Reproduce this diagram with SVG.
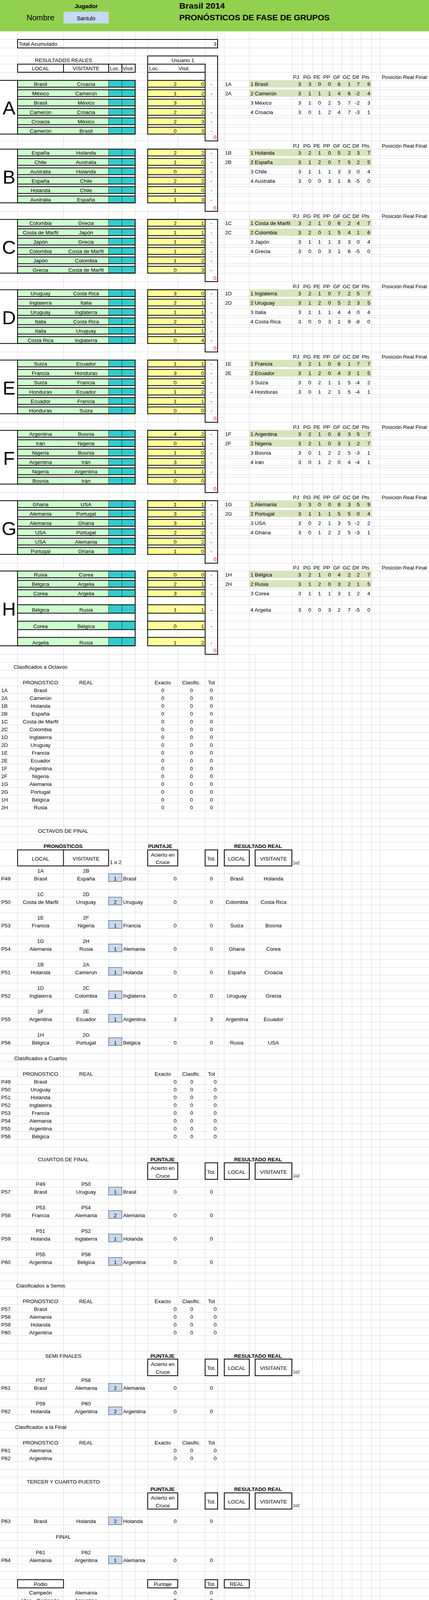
<svg xmlns="http://www.w3.org/2000/svg" width="1098" height="4208" viewBox="0 0 1098 4208">
<style>
text{font-family:"Liberation Sans",Arial,Helvetica,sans-serif;font-size:13.5px;fill:#000}
.m{text-anchor:middle}
.e{text-anchor:end}
.b{font-weight:bold}
.big{font-size:49px}
.sm{font-size:10px}
.red{fill:#f00}
.gl{stroke:#d9d9d9;stroke-width:1;fill:none}
.k{stroke:#000;stroke-width:2;fill:none;stroke-linecap:square}
.bx{fill:#c5d9f1;stroke:#3a3a3a;stroke-width:1}
.hl{fill:#d8e4bc}
.wh{fill:#fff}
</style>
<defs>
<g id="mr">
<rect x="45" y="0" width="233" height="17.6" fill="#ccffcc"/>
<rect x="278" y="0" width="68" height="17.6" fill="#33cccc"/>
<rect x="378" y="0" width="147" height="17.6" fill="#ffff99"/>
<path d="M278 0V17.6M312 0V17.6" stroke="#2a2a2a" stroke-width="1"/>
<path d="M45 0H346M45 17.6H346M378 0H525M378 17.6H525" stroke="#000" stroke-width="2" fill="none" stroke-linecap="square"/>
</g>
<g id="mr2">
<rect x="45" y="0" width="233" height="21.5" fill="#ccffcc"/>
<rect x="278" y="0" width="68" height="21.5" fill="#33cccc"/>
<rect x="378" y="0" width="147" height="21.5" fill="#ffff99"/>
<path d="M278 0V21.5M312 0V21.5" stroke="#2a2a2a" stroke-width="1"/>
<path d="M45 0H346M45 21.5H346M378 0H525M378 21.5H525" stroke="#000" stroke-width="2" fill="none" stroke-linecap="square"/>
</g>
</defs>
<rect width="1098" height="4208" fill="#fff"/>
<g id="grid">
<path class="gl" d="M45 80V4208M162.5 80V4208M278 80V4208M312 80V4208M346 80V4208M378 80V4208M455 80V4208M525 80V4208M557 80V4208M574 80V4208M638 80V4208M748 80V4208M774 80V4208M800 80V4208M825 80V4208M851 80V4208M875 80V4208M901 80V4208M924 80V4208M951 80V4208M973 80V4208M653 1675V4208"/>
<path class="gl" d="M0 80h1098M0 101h1098M0 122.7h1098M0 143.3h1098M0 164.3h1098M0 185h1098M0 205.7h1098M0 223.3h1098M0 229.7h1098M0 247.3h1098M0 253.7h1098M0 271.3h1098M0 277.7h1098M0 295.3h1098M0 301.7h1098M0 319.3h1098M0 325.7h1098M0 343.3h1098M0 360.7h1098M0 381.7h1098M0 399.3h1098M0 405.7h1098M0 423.3h1098M0 429.7h1098M0 447.3h1098M0 453.7h1098M0 471.3h1098M0 477.7h1098M0 495.3h1098M0 501.7h1098M0 519.3h1098M0 541h1098M0 561.7h1098M0 579.3h1098M0 585.7h1098M0 603.3h1098M0 609.7h1098M0 627.3h1098M0 633.7h1098M0 651.3h1098M0 657.7h1098M0 675.3h1098M0 681.7h1098M0 699.3h1098M0 721h1098M0 741.7h1098M0 759.3h1098M0 765.7h1098M0 783.3h1098M0 789.7h1098M0 807.3h1098M0 813.7h1098M0 831.3h1098M0 837.7h1098M0 855.3h1098M0 861.7h1098M0 879.3h1098M0 901h1098M0 921.7h1098M0 939.3h1098M0 945.7h1098M0 963.3h1098M0 969.7h1098M0 987.3h1098M0 993.7h1098M0 1011.3h1098M0 1017.7h1098M0 1035.3h1098M0 1041.7h1098M0 1059.3h1098M0 1081h1098M0 1101.7h1098M0 1119.3h1098M0 1125.7h1098M0 1143.3h1098M0 1149.7h1098M0 1167.3h1098M0 1173.7h1098M0 1191.3h1098M0 1197.7h1098M0 1215.3h1098M0 1221.7h1098M0 1239.3h1098M0 1261h1098M0 1281.7h1098M0 1299.3h1098M0 1305.7h1098M0 1323.3h1098M0 1329.7h1098M0 1347.3h1098M0 1353.7h1098M0 1371.3h1098M0 1377.7h1098M0 1395.3h1098M0 1401.7h1098M0 1419.3h1098M0 1441.7h1098M0 1461.7h1098M0 1479.3h1098M0 1485.7h1098M0 1503.3h1098M0 1509.7h1098M0 1527.3h1098M0 1548.3h1098M0 1570h1098M0 1590.3h1098M0 1611.7h1098M0 1632h1098M0 1653.3h1098M0 1675h1098M0 1695.7h1098M0 1715.7h1098M0 1735.7h1098M0 1755.7h1098M0 1775.7h1098M0 1795.7h1098M0 1815.7h1098M0 1835.7h1098M0 1855.7h1098M0 1875.7h1098M0 1895.7h1098M0 1915.7h1098M0 1935.7h1098M0 1955.7h1098M0 1975.7h1098M0 1995.7h1098M0 2015.7h1098M0 2035.7h1098M0 2055.7h1098M0 2075.7h1098M0 2095.7h1098M0 2115.7h1098M0 2135.7h1098M0 2155.7h1098M0 2175.7h1098M0 2216.7h1098M0 2236.7h1098M0 2256.7h1098M0 2276.7h1098M0 2296.7h1098M0 2316.7h1098M0 2336.7h1098M0 2356.7h1098M0 2376.7h1098M0 2396.7h1098M0 2416.7h1098M0 2436.7h1098M0 2456.7h1098M0 2476.7h1098M0 2496.7h1098M0 2516.7h1098M0 2536.7h1098M0 2556.7h1098M0 2576.7h1098M0 2596.7h1098M0 2616.7h1098M0 2636.7h1098M0 2656.7h1098M0 2676.7h1098M0 2696.7h1098M0 2716.7h1098M0 2736.7h1098M0 2756.7h1098M0 2776.7h1098M0 2796.7h1098M0 2816.7h1098M0 2836.7h1098M0 2856.7h1098M0 2876.7h1098M0 2896.7h1098M0 2916.7h1098M0 2936.7h1098M0 2956.7h1098M0 2976.7h1098M0 3019.2h1098M0 3039.2h1098M0 3059.2h1098M0 3079.2h1098M0 3099.2h1098M0 3119.2h1098M0 3139.2h1098M0 3159.2h1098M0 3179.2h1098M0 3199.2h1098M0 3219.2h1098M0 3239.2h1098M0 3259.2h1098M0 3279.2h1098M0 3299.2h1098M0 3319.2h1098M0 3339.2h1098M0 3359.2h1098M0 3379.2h1098M0 3399.2h1098M0 3419.2h1098M0 3439.2h1098M0 3459.2h1098M0 3479.2h1098M0 3521.7h1098M0 3541.7h1098M0 3561.7h1098M0 3581.7h1098M0 3601.7h1098M0 3621.7h1098M0 3641.7h1098M0 3661.7h1098M0 3681.7h1098M0 3701.7h1098M0 3721.7h1098M0 3741.7h1098M0 3761.7h1098M0 3781.7h1098M0 3801.7h1098M0 3821.7h1098M0 3863.3h1098M0 3883.3h1098M0 3903.3h1098M0 3923.3h1098M0 3943.3h1098M0 3963.3h1098M0 3983.3h1098M0 4003.3h1098M0 4023.3h1098M0 4044h1098M0 4065h1098M0 4086h1098M0 4106h1098M0 4126h1098M0 4146h1098M0 4167.3h1098M0 4187.7h1098"/>
</g>
<g id="header">
<rect x="0" y="0" width="1098" height="80" fill="#92d050"/>
<rect x="162.5" y="30" width="115.5" height="30" fill="#c5d9f1"/>
<text class="m b" x="220.5" y="21" style="font-size:15px">Jugador</text>
<text class="m" x="103.6" y="52.3" style="font-size:20px">Nombre</text>
<text class="m" x="220.25" y="52" style="font-size:14px">Santulo</text>
<text class="b" x="458.7" y="21.7" style="font-size:20px" textLength="117" lengthAdjust="spacingAndGlyphs">Brasil 2014</text>
<text class="b" x="458.7" y="52.3" style="font-size:20px" textLength="385" lengthAdjust="spacingAndGlyphs">PRONÓSTICOS DE FASE DE GRUPOS</text>
</g>
<g id="total">
<rect class="k" x="45" y="101" width="512" height="21.7"/>
<text x="47.5" y="117">Total Acumulado</text>
<text class="e" x="554" y="117">3</text>
</g>
<g id="column-headers">
<text class="m" x="162.5" y="159">RESULTADOS REALES</text>
<text class="m" x="468" y="159">Usuario 1</text>
<path class="k" d="M45 164.3H346V185H45ZM162.5 164.3V185M278 164.3V185M312 164.3V185M378 164.3H525V185H378Z"/>
<text class="m" y="180"><tspan x="103.75">LOCAL</tspan><tspan x="220.25">VISITANTE</tspan></text>
<text y="180"><tspan x="281">Loc.</tspan><tspan x="314">Visit.</tspan><tspan x="381.5">Loc.</tspan><tspan x="457">Visit.</tspan></text>
</g>

<g id="group-A">
<rect class="wh" x="0" y="206.7" width="44" height="135.6"/>
<use href="#mr" y="205.7"/><use href="#mr" y="229.7"/><use href="#mr" y="253.7"/><use href="#mr" y="277.7"/><use href="#mr" y="301.7"/><use href="#mr" y="325.7"/>
<path class="k" d="M0 205.7H45M0 343.3H346M45 205.7V343.3M346 205.7V343.3M378 143.3V343.3M525 164.3V360.7M557 143.3V360.7M378 143.3H557M525 360.7H557"/>
<rect class="hl" x="638" y="205.7" width="313" height="17.6"/><rect class="hl" x="638" y="229.7" width="313" height="17.6"/>
<text class="big m" x="23" y="293">A</text>
<text class="m" y="219.5"><tspan x="103.75">Brasil</tspan><tspan x="220.25">Croacia</tspan><tspan x="541">-</tspan></text><text class="e" y="219.5"><tspan x="452">2</tspan><tspan x="522.5">0</tspan></text>
<text class="m" y="243.5"><tspan x="103.75">México</tspan><tspan x="220.25">Camerún</tspan><tspan x="541">-</tspan></text><text class="e" y="243.5"><tspan x="452">1</tspan><tspan x="522.5">2</tspan></text>
<text class="m" y="267.5"><tspan x="103.75">Brasil</tspan><tspan x="220.25">México</tspan></text><text class="e" y="267.5"><tspan x="452">3</tspan><tspan x="522.5">1</tspan></text>
<text class="m" y="291.5"><tspan x="103.75">Camerún</tspan><tspan x="220.25">Croacia</tspan><tspan x="541">-</tspan></text><text class="e" y="291.5"><tspan x="452">2</tspan><tspan x="522.5">2</tspan></text>
<text class="m" y="315.5"><tspan x="103.75">Croacia</tspan><tspan x="220.25">México</tspan><tspan x="541">-</tspan></text><text class="e" y="315.5"><tspan x="452">2</tspan><tspan x="522.5">3</tspan></text>
<text class="m" y="339.5"><tspan x="103.75">Camerún</tspan><tspan x="220.25">Brasil</tspan><tspan x="541">-</tspan></text><text class="e" y="339.5"><tspan x="452">0</tspan><tspan x="522.5">3</tspan></text>
<text class="e red" x="554" y="355.7">0</text>
<text y="201.7"><tspan x="750">PJ</tspan><tspan x="776">PG</tspan><tspan x="802">PE</tspan><tspan x="827">PP</tspan><tspan x="852.5">GF</tspan><tspan x="877">GC</tspan><tspan x="902">Dif</tspan><tspan x="926">Pts</tspan><tspan x="977">Posición Real Final</tspan></text>
<text y="219.5"><tspan x="576">1A</tspan><tspan x="641">1 Brasil</tspan></text><text class="e" y="219.5"><tspan x="770.5">3</tspan><tspan x="796.5">3</tspan><tspan x="821.5">0</tspan><tspan x="847">0</tspan><tspan x="871.5">8</tspan><tspan x="897.5">1</tspan><tspan x="920.5">7</tspan><tspan x="947.5">9</tspan></text>
<text y="243.5"><tspan x="576">2A</tspan><tspan x="641">2 Camerún</tspan></text><text class="e" y="243.5"><tspan x="770.5">3</tspan><tspan x="796.5">1</tspan><tspan x="821.5">1</tspan><tspan x="847">1</tspan><tspan x="871.5">4</tspan><tspan x="897.5">6</tspan><tspan x="920.5">-2</tspan><tspan x="947.5">4</tspan></text>
<text x="641" y="267.5">3 México</text><text class="e" y="267.5"><tspan x="770.5">3</tspan><tspan x="796.5">1</tspan><tspan x="821.5">0</tspan><tspan x="847">2</tspan><tspan x="871.5">5</tspan><tspan x="897.5">7</tspan><tspan x="920.5">-2</tspan><tspan x="947.5">3</tspan></text>
<text x="641" y="291.5">4 Croacia</text><text class="e" y="291.5"><tspan x="770.5">3</tspan><tspan x="796.5">0</tspan><tspan x="821.5">1</tspan><tspan x="847">2</tspan><tspan x="871.5">4</tspan><tspan x="897.5">7</tspan><tspan x="920.5">-3</tspan><tspan x="947.5">1</tspan></text>
</g>

<g id="group-B">
<rect class="wh" x="0" y="382.7" width="44" height="135.6"/>
<use href="#mr" y="381.7"/><use href="#mr" y="405.7"/><use href="#mr" y="429.7"/><use href="#mr" y="453.7"/><use href="#mr" y="477.7"/><use href="#mr" y="501.7"/>
<path class="k" d="M0 381.7H45M0 519.3H346M45 381.7V519.3M346 381.7V519.3M378 381.7V519.3M525 381.7V541M557 381.7V541M378 381.7H557M525 541H557"/>
<rect class="hl" x="638" y="381.7" width="313" height="17.6"/><rect class="hl" x="638" y="405.7" width="313" height="17.6"/>
<text class="big m" x="23" y="469.5">B</text>
<text class="m" y="395.5"><tspan x="103.75">España</tspan><tspan x="220.25">Holanda</tspan><tspan x="541">-</tspan></text><text class="e" y="395.5"><tspan x="452">2</tspan><tspan x="522.5">2</tspan></text>
<text class="m" y="419.5"><tspan x="103.75">Chile</tspan><tspan x="220.25">Australia</tspan><tspan x="541">-</tspan></text><text class="e" y="419.5"><tspan x="452">1</tspan><tspan x="522.5">0</tspan></text>
<text class="m" y="443.5"><tspan x="103.75">Australia</tspan><tspan x="220.25">Holanda</tspan><tspan x="541">-</tspan></text><text class="e" y="443.5"><tspan x="452">0</tspan><tspan x="522.5">2</tspan></text>
<text class="m" y="467.5"><tspan x="103.75">España</tspan><tspan x="220.25">Chile</tspan><tspan x="541">-</tspan></text><text class="e" y="467.5"><tspan x="452">2</tspan><tspan x="522.5">2</tspan></text>
<text class="m" y="491.5"><tspan x="103.75">Holanda</tspan><tspan x="220.25">Chile</tspan><tspan x="541">-</tspan></text><text class="e" y="491.5"><tspan x="452">1</tspan><tspan x="522.5">0</tspan></text>
<text class="m" y="515.5"><tspan x="103.75">Australia</tspan><tspan x="220.25">España</tspan><tspan x="541">-</tspan></text><text class="e" y="515.5"><tspan x="452">1</tspan><tspan x="522.5">3</tspan></text>
<text class="e red" x="554" y="536.5">0</text>
<text y="377.7"><tspan x="750">PJ</tspan><tspan x="776">PG</tspan><tspan x="802">PE</tspan><tspan x="827">PP</tspan><tspan x="852.5">GF</tspan><tspan x="877">GC</tspan><tspan x="902">Dif</tspan><tspan x="926">Pts</tspan><tspan x="977">Posición Real Final</tspan></text>
<text y="395.5"><tspan x="576">1B</tspan><tspan x="641">1 Holanda</tspan></text><text class="e" y="395.5"><tspan x="770.5">3</tspan><tspan x="796.5">2</tspan><tspan x="821.5">1</tspan><tspan x="847">0</tspan><tspan x="871.5">5</tspan><tspan x="897.5">2</tspan><tspan x="920.5">3</tspan><tspan x="947.5">7</tspan></text>
<text y="419.5"><tspan x="576">2B</tspan><tspan x="641">2 España</tspan></text><text class="e" y="419.5"><tspan x="770.5">3</tspan><tspan x="796.5">1</tspan><tspan x="821.5">2</tspan><tspan x="847">0</tspan><tspan x="871.5">7</tspan><tspan x="897.5">5</tspan><tspan x="920.5">2</tspan><tspan x="947.5">5</tspan></text>
<text x="641" y="443.5">3 Chile</text><text class="e" y="443.5"><tspan x="770.5">3</tspan><tspan x="796.5">1</tspan><tspan x="821.5">1</tspan><tspan x="847">1</tspan><tspan x="871.5">3</tspan><tspan x="897.5">3</tspan><tspan x="920.5">0</tspan><tspan x="947.5">4</tspan></text>
<text x="641" y="467.5">4 Australia</text><text class="e" y="467.5"><tspan x="770.5">3</tspan><tspan x="796.5">0</tspan><tspan x="821.5">0</tspan><tspan x="847">3</tspan><tspan x="871.5">1</tspan><tspan x="897.5">6</tspan><tspan x="920.5">-5</tspan><tspan x="947.5">0</tspan></text>
</g>

<g id="group-C">
<rect class="wh" x="0" y="562.7" width="44" height="135.6"/>
<use href="#mr" y="561.7"/><use href="#mr" y="585.7"/><use href="#mr" y="609.7"/><use href="#mr" y="633.7"/><use href="#mr" y="657.7"/><use href="#mr" y="681.7"/>
<path class="k" d="M0 561.7H45M0 699.3H346M45 561.7V699.3M346 561.7V699.3M378 561.7V699.3M525 561.7V721M557 561.7V721M378 561.7H557M525 721H557"/>
<rect class="hl" x="638" y="561.7" width="313" height="17.6"/><rect class="hl" x="638" y="585.7" width="313" height="17.6"/>
<text class="big m" x="23" y="649.5">C</text>
<text class="m" y="575.5"><tspan x="103.75">Colombia</tspan><tspan x="220.25">Grecia</tspan><tspan x="541">-</tspan></text><text class="e" y="575.5"><tspan x="452">2</tspan><tspan x="522.5">1</tspan></text>
<text class="m" y="599.5"><tspan x="103.75">Costa de Marfil</tspan><tspan x="220.25">Japón</tspan><tspan x="541">-</tspan></text><text class="e" y="599.5"><tspan x="452">1</tspan><tspan x="522.5">1</tspan></text>
<text class="m" y="623.5"><tspan x="103.75">Japón</tspan><tspan x="220.25">Grecia</tspan><tspan x="541">-</tspan></text><text class="e" y="623.5"><tspan x="452">1</tspan><tspan x="522.5">0</tspan></text>
<text class="m" y="647.5"><tspan x="103.75">Colombia</tspan><tspan x="220.25">Costa de Marfil</tspan><tspan x="541">-</tspan></text><text class="e" y="647.5"><tspan x="452">1</tspan><tspan x="522.5">2</tspan></text>
<text class="m" y="671.5"><tspan x="103.75">Japón</tspan><tspan x="220.25">Colombia</tspan><tspan x="541">-</tspan></text><text class="e" y="671.5"><tspan x="452">1</tspan><tspan x="522.5">2</tspan></text>
<text class="m" y="695.5"><tspan x="103.75">Grecia</tspan><tspan x="220.25">Costa de Marfil</tspan><tspan x="541">-</tspan></text><text class="e" y="695.5"><tspan x="452">0</tspan><tspan x="522.5">3</tspan></text>
<text class="e red" x="554" y="716.5">0</text>
<text y="557.7"><tspan x="750">PJ</tspan><tspan x="776">PG</tspan><tspan x="802">PE</tspan><tspan x="827">PP</tspan><tspan x="852.5">GF</tspan><tspan x="877">GC</tspan><tspan x="902">Dif</tspan><tspan x="926">Pts</tspan><tspan x="977">Posición Real Final</tspan></text>
<text y="575.5"><tspan x="576">1C</tspan><tspan x="641">1 Costa de Marfil</tspan></text><text class="e" y="575.5"><tspan x="770.5">3</tspan><tspan x="796.5">2</tspan><tspan x="821.5">1</tspan><tspan x="847">0</tspan><tspan x="871.5">6</tspan><tspan x="897.5">2</tspan><tspan x="920.5">4</tspan><tspan x="947.5">7</tspan></text>
<text y="599.5"><tspan x="576">2C</tspan><tspan x="641">2 Colombia</tspan></text><text class="e" y="599.5"><tspan x="770.5">3</tspan><tspan x="796.5">2</tspan><tspan x="821.5">0</tspan><tspan x="847">1</tspan><tspan x="871.5">5</tspan><tspan x="897.5">4</tspan><tspan x="920.5">1</tspan><tspan x="947.5">6</tspan></text>
<text x="641" y="623.5">3 Japón</text><text class="e" y="623.5"><tspan x="770.5">3</tspan><tspan x="796.5">1</tspan><tspan x="821.5">1</tspan><tspan x="847">1</tspan><tspan x="871.5">3</tspan><tspan x="897.5">3</tspan><tspan x="920.5">0</tspan><tspan x="947.5">4</tspan></text>
<text x="641" y="647.5">4 Grecia</text><text class="e" y="647.5"><tspan x="770.5">3</tspan><tspan x="796.5">0</tspan><tspan x="821.5">0</tspan><tspan x="847">3</tspan><tspan x="871.5">1</tspan><tspan x="897.5">6</tspan><tspan x="920.5">-5</tspan><tspan x="947.5">0</tspan></text>
</g>

<g id="group-D">
<rect class="wh" x="0" y="742.7" width="44" height="135.6"/>
<use href="#mr" y="741.7"/><use href="#mr" y="765.7"/><use href="#mr" y="789.7"/><use href="#mr" y="813.7"/><use href="#mr" y="837.7"/><use href="#mr" y="861.7"/>
<path class="k" d="M0 741.7H45M0 879.3H346M45 741.7V879.3M346 741.7V879.3M378 741.7V879.3M525 741.7V901M557 741.7V901M378 741.7H557M525 901H557"/>
<rect class="hl" x="638" y="741.7" width="313" height="17.6"/><rect class="hl" x="638" y="765.7" width="313" height="17.6"/>
<text class="big m" x="23" y="829.5">D</text>
<text class="m" y="755.5"><tspan x="103.75">Uruguay</tspan><tspan x="220.25">Costa Rica</tspan><tspan x="541">-</tspan></text><text class="e" y="755.5"><tspan x="452">3</tspan><tspan x="522.5">0</tspan></text>
<text class="m" y="779.5"><tspan x="103.75">Inglaterra</tspan><tspan x="220.25">Italia</tspan><tspan x="541">-</tspan></text><text class="e" y="779.5"><tspan x="452">2</tspan><tspan x="522.5">1</tspan></text>
<text class="m" y="803.5"><tspan x="103.75">Uruguay</tspan><tspan x="220.25">Inglaterra</tspan><tspan x="541">-</tspan></text><text class="e" y="803.5"><tspan x="452">1</tspan><tspan x="522.5">1</tspan></text>
<text class="m" y="827.5"><tspan x="103.75">Italia</tspan><tspan x="220.25">Costa Rica</tspan><tspan x="541">-</tspan></text><text class="e" y="827.5"><tspan x="452">2</tspan><tspan x="522.5">1</tspan></text>
<text class="m" y="851.5"><tspan x="103.75">Italia</tspan><tspan x="220.25">Uruguay</tspan><tspan x="541">-</tspan></text><text class="e" y="851.5"><tspan x="452">1</tspan><tspan x="522.5">1</tspan></text>
<text class="m" y="875.5"><tspan x="103.75">Costa Rica</tspan><tspan x="220.25">Inglaterra</tspan><tspan x="541">-</tspan></text><text class="e" y="875.5"><tspan x="452">0</tspan><tspan x="522.5">4</tspan></text>
<text class="e red" x="554" y="896">0</text>
<text y="737.7"><tspan x="750">PJ</tspan><tspan x="776">PG</tspan><tspan x="802">PE</tspan><tspan x="827">PP</tspan><tspan x="852.5">GF</tspan><tspan x="877">GC</tspan><tspan x="902">Dif</tspan><tspan x="926">Pts</tspan><tspan x="977">Posición Real Final</tspan></text>
<text y="755.5"><tspan x="576">1D</tspan><tspan x="641">1 Inglaterra</tspan></text><text class="e" y="755.5"><tspan x="770.5">3</tspan><tspan x="796.5">2</tspan><tspan x="821.5">1</tspan><tspan x="847">0</tspan><tspan x="871.5">7</tspan><tspan x="897.5">2</tspan><tspan x="920.5">5</tspan><tspan x="947.5">7</tspan></text>
<text y="779.5"><tspan x="576">2D</tspan><tspan x="641">2 Uruguay</tspan></text><text class="e" y="779.5"><tspan x="770.5">3</tspan><tspan x="796.5">1</tspan><tspan x="821.5">2</tspan><tspan x="847">0</tspan><tspan x="871.5">5</tspan><tspan x="897.5">2</tspan><tspan x="920.5">3</tspan><tspan x="947.5">5</tspan></text>
<text x="641" y="803.5">3 Italia</text><text class="e" y="803.5"><tspan x="770.5">3</tspan><tspan x="796.5">1</tspan><tspan x="821.5">1</tspan><tspan x="847">1</tspan><tspan x="871.5">4</tspan><tspan x="897.5">4</tspan><tspan x="920.5">0</tspan><tspan x="947.5">4</tspan></text>
<text x="641" y="827.5">4 Costa Rica</text><text class="e" y="827.5"><tspan x="770.5">3</tspan><tspan x="796.5">0</tspan><tspan x="821.5">0</tspan><tspan x="847">3</tspan><tspan x="871.5">1</tspan><tspan x="897.5">9</tspan><tspan x="920.5">-8</tspan><tspan x="947.5">0</tspan></text>
</g>

<g id="group-E">
<rect class="wh" x="0" y="922.7" width="44" height="135.6"/>
<use href="#mr" y="921.7"/><use href="#mr" y="945.7"/><use href="#mr" y="969.7"/><use href="#mr" y="993.7"/><use href="#mr" y="1017.7"/><use href="#mr" y="1041.7"/>
<path class="k" d="M0 921.7H45M0 1059.3H346M45 921.7V1059.3M346 921.7V1059.3M378 921.7V1059.3M525 921.7V1081M557 921.7V1081M378 921.7H557M525 1081H557"/>
<rect class="hl" x="638" y="921.7" width="313" height="17.6"/><rect class="hl" x="638" y="945.7" width="313" height="17.6"/>
<text class="big m" x="23" y="1009.5">E</text>
<text class="m" y="935.5"><tspan x="103.75">Suiza</tspan><tspan x="220.25">Ecuador</tspan><tspan x="541">-</tspan></text><text class="e" y="935.5"><tspan x="452">1</tspan><tspan x="522.5">1</tspan></text>
<text class="m" y="959.5"><tspan x="103.75">Francia</tspan><tspan x="220.25">Honduras</tspan><tspan x="541">-</tspan></text><text class="e" y="959.5"><tspan x="452">3</tspan><tspan x="522.5">0</tspan></text>
<text class="m" y="983.5"><tspan x="103.75">Suiza</tspan><tspan x="220.25">Francia</tspan><tspan x="541">-</tspan></text><text class="e" y="983.5"><tspan x="452">0</tspan><tspan x="522.5">4</tspan></text>
<text class="m" y="1007.5"><tspan x="103.75">Honduras</tspan><tspan x="220.25">Ecuador</tspan><tspan x="541">-</tspan></text><text class="e" y="1007.5"><tspan x="452">1</tspan><tspan x="522.5">2</tspan></text>
<text class="m" y="1031.5"><tspan x="103.75">Ecuador</tspan><tspan x="220.25">Francia</tspan><tspan x="541">-</tspan></text><text class="e" y="1031.5"><tspan x="452">1</tspan><tspan x="522.5">1</tspan></text>
<text class="m" y="1055.5"><tspan x="103.75">Honduras</tspan><tspan x="220.25">Suiza</tspan><tspan x="541">-</tspan></text><text class="e" y="1055.5"><tspan x="452">0</tspan><tspan x="522.5">0</tspan></text>
<text class="e red" x="554" y="1076">0</text>
<text y="917.7"><tspan x="750">PJ</tspan><tspan x="776">PG</tspan><tspan x="802">PE</tspan><tspan x="827">PP</tspan><tspan x="852.5">GF</tspan><tspan x="877">GC</tspan><tspan x="902">Dif</tspan><tspan x="926">Pts</tspan><tspan x="977">Posición Real Final</tspan></text>
<text y="935.5"><tspan x="576">1E</tspan><tspan x="641">1 Francia</tspan></text><text class="e" y="935.5"><tspan x="770.5">3</tspan><tspan x="796.5">2</tspan><tspan x="821.5">1</tspan><tspan x="847">0</tspan><tspan x="871.5">8</tspan><tspan x="897.5">1</tspan><tspan x="920.5">7</tspan><tspan x="947.5">7</tspan></text>
<text y="959.5"><tspan x="576">2E</tspan><tspan x="641">2 Ecuador</tspan></text><text class="e" y="959.5"><tspan x="770.5">3</tspan><tspan x="796.5">1</tspan><tspan x="821.5">2</tspan><tspan x="847">0</tspan><tspan x="871.5">4</tspan><tspan x="897.5">3</tspan><tspan x="920.5">1</tspan><tspan x="947.5">5</tspan></text>
<text x="641" y="983.5">3 Suiza</text><text class="e" y="983.5"><tspan x="770.5">3</tspan><tspan x="796.5">0</tspan><tspan x="821.5">2</tspan><tspan x="847">1</tspan><tspan x="871.5">1</tspan><tspan x="897.5">5</tspan><tspan x="920.5">-4</tspan><tspan x="947.5">2</tspan></text>
<text x="641" y="1007.5">4 Honduras</text><text class="e" y="1007.5"><tspan x="770.5">3</tspan><tspan x="796.5">0</tspan><tspan x="821.5">1</tspan><tspan x="847">2</tspan><tspan x="871.5">1</tspan><tspan x="897.5">5</tspan><tspan x="920.5">-4</tspan><tspan x="947.5">1</tspan></text>
</g>

<g id="group-F">
<rect class="wh" x="0" y="1102.7" width="44" height="135.6"/>
<use href="#mr" y="1101.7"/><use href="#mr" y="1125.7"/><use href="#mr" y="1149.7"/><use href="#mr" y="1173.7"/><use href="#mr" y="1197.7"/><use href="#mr" y="1221.7"/>
<path class="k" d="M0 1101.7H45M0 1239.3H346M45 1101.7V1239.3M346 1101.7V1239.3M378 1101.7V1239.3M525 1101.7V1261M557 1101.7V1261M378 1101.7H557M525 1261H557"/>
<rect class="hl" x="638" y="1101.7" width="313" height="17.6"/><rect class="hl" x="638" y="1125.7" width="313" height="17.6"/>
<text class="big m" x="23" y="1189.5">F</text>
<text class="m" y="1115.5"><tspan x="103.75">Argentina</tspan><tspan x="220.25">Bosnia</tspan><tspan x="541">-</tspan></text><text class="e" y="1115.5"><tspan x="452">4</tspan><tspan x="522.5">2</tspan></text>
<text class="m" y="1139.5"><tspan x="103.75">Irán</tspan><tspan x="220.25">Nigeria</tspan><tspan x="541">-</tspan></text><text class="e" y="1139.5"><tspan x="452">0</tspan><tspan x="522.5">1</tspan></text>
<text class="m" y="1163.5"><tspan x="103.75">Nigeria</tspan><tspan x="220.25">Bosnia</tspan><tspan x="541">-</tspan></text><text class="e" y="1163.5"><tspan x="452">1</tspan><tspan x="522.5">0</tspan></text>
<text class="m" y="1187.5"><tspan x="103.75">Argentina</tspan><tspan x="220.25">Irán</tspan><tspan x="541">-</tspan></text><text class="e" y="1187.5"><tspan x="452">3</tspan><tspan x="522.5">0</tspan></text>
<text class="m" y="1211.5"><tspan x="103.75">Nigeria</tspan><tspan x="220.25">Argentina</tspan><tspan x="541">-</tspan></text><text class="e" y="1211.5"><tspan x="452">1</tspan><tspan x="522.5">1</tspan></text>
<text class="m" y="1235.5"><tspan x="103.75">Bosnia</tspan><tspan x="220.25">Irán</tspan></text><text class="e" y="1235.5"><tspan x="452">0</tspan><tspan x="522.5">0</tspan></text>
<text class="e red" x="554" y="1256">0</text>
<text y="1097.7"><tspan x="750">PJ</tspan><tspan x="776">PG</tspan><tspan x="802">PE</tspan><tspan x="827">PP</tspan><tspan x="852.5">GF</tspan><tspan x="877">GC</tspan><tspan x="902">Dif</tspan><tspan x="926">Pts</tspan><tspan x="977">Posición Real Final</tspan></text>
<text y="1115.5"><tspan x="576">1F</tspan><tspan x="641">1 Argentina</tspan></text><text class="e" y="1115.5"><tspan x="770.5">3</tspan><tspan x="796.5">2</tspan><tspan x="821.5">1</tspan><tspan x="847">0</tspan><tspan x="871.5">8</tspan><tspan x="897.5">3</tspan><tspan x="920.5">5</tspan><tspan x="947.5">7</tspan></text>
<text y="1139.5"><tspan x="576">2F</tspan><tspan x="641">2 Nigeria</tspan></text><text class="e" y="1139.5"><tspan x="770.5">3</tspan><tspan x="796.5">2</tspan><tspan x="821.5">1</tspan><tspan x="847">0</tspan><tspan x="871.5">3</tspan><tspan x="897.5">1</tspan><tspan x="920.5">2</tspan><tspan x="947.5">7</tspan></text>
<text x="641" y="1163.5">3 Bosnia</text><text class="e" y="1163.5"><tspan x="770.5">3</tspan><tspan x="796.5">0</tspan><tspan x="821.5">1</tspan><tspan x="847">2</tspan><tspan x="871.5">2</tspan><tspan x="897.5">5</tspan><tspan x="920.5">-3</tspan><tspan x="947.5">1</tspan></text>
<text x="641" y="1187.5">4 Irán</text><text class="e" y="1187.5"><tspan x="770.5">3</tspan><tspan x="796.5">0</tspan><tspan x="821.5">1</tspan><tspan x="847">2</tspan><tspan x="871.5">0</tspan><tspan x="897.5">4</tspan><tspan x="920.5">-4</tspan><tspan x="947.5">1</tspan></text>
</g>

<g id="group-G">
<rect class="wh" x="0" y="1282.7" width="44" height="135.6"/>
<use href="#mr" y="1281.7"/><use href="#mr" y="1305.7"/><use href="#mr" y="1329.7"/><use href="#mr" y="1353.7"/><use href="#mr" y="1377.7"/><use href="#mr" y="1401.7"/>
<path class="k" d="M0 1281.7H45M0 1419.3H346M45 1281.7V1419.3M346 1281.7V1419.3M378 1281.7V1419.3M525 1281.7V1441.7M557 1281.7V1441.7M378 1281.7H557M525 1441.7H557"/>
<rect class="hl" x="638" y="1281.7" width="313" height="17.6"/><rect class="hl" x="638" y="1305.7" width="313" height="17.6"/>
<text class="big m" x="23" y="1369.5">G</text>
<text class="m" y="1295.5"><tspan x="103.75">Ghana</tspan><tspan x="220.25">USA</tspan><tspan x="541">-</tspan></text><text class="e" y="1295.5"><tspan x="452">1</tspan><tspan x="522.5">1</tspan></text>
<text class="m" y="1319.5"><tspan x="103.75">Alemania</tspan><tspan x="220.25">Portugal</tspan><tspan x="541">-</tspan></text><text class="e" y="1319.5"><tspan x="452">3</tspan><tspan x="522.5">2</tspan></text>
<text class="m" y="1343.5"><tspan x="103.75">Alemania</tspan><tspan x="220.25">Ghana</tspan><tspan x="541">-</tspan></text><text class="e" y="1343.5"><tspan x="452">3</tspan><tspan x="522.5">1</tspan></text>
<text class="m" y="1367.5"><tspan x="103.75">USA</tspan><tspan x="220.25">Portugal</tspan><tspan x="541">-</tspan></text><text class="e" y="1367.5"><tspan x="452">2</tspan><tspan x="522.5">2</tspan></text>
<text class="m" y="1391.5"><tspan x="103.75">USA</tspan><tspan x="220.25">Alemania</tspan><tspan x="541">-</tspan></text><text class="e" y="1391.5"><tspan x="452">0</tspan><tspan x="522.5">2</tspan></text>
<text class="m" y="1415.5"><tspan x="103.75">Portugal</tspan><tspan x="220.25">Ghana</tspan><tspan x="541">-</tspan></text><text class="e" y="1415.5"><tspan x="452">1</tspan><tspan x="522.5">0</tspan></text>
<text class="e red" x="554" y="1436">0</text>
<text y="1277.7"><tspan x="750">PJ</tspan><tspan x="776">PG</tspan><tspan x="802">PE</tspan><tspan x="827">PP</tspan><tspan x="852.5">GF</tspan><tspan x="877">GC</tspan><tspan x="902">Dif</tspan><tspan x="926">Pts</tspan><tspan x="977">Posición Real Final</tspan></text>
<text y="1295.5"><tspan x="576">1G</tspan><tspan x="641">1 Alemania</tspan></text><text class="e" y="1295.5"><tspan x="770.5">3</tspan><tspan x="796.5">3</tspan><tspan x="821.5">0</tspan><tspan x="847">0</tspan><tspan x="871.5">8</tspan><tspan x="897.5">3</tspan><tspan x="920.5">5</tspan><tspan x="947.5">9</tspan></text>
<text y="1319.5"><tspan x="576">2G</tspan><tspan x="641">2 Portugal</tspan></text><text class="e" y="1319.5"><tspan x="770.5">3</tspan><tspan x="796.5">1</tspan><tspan x="821.5">1</tspan><tspan x="847">1</tspan><tspan x="871.5">5</tspan><tspan x="897.5">5</tspan><tspan x="920.5">0</tspan><tspan x="947.5">4</tspan></text>
<text x="641" y="1343.5">3 USA</text><text class="e" y="1343.5"><tspan x="770.5">3</tspan><tspan x="796.5">0</tspan><tspan x="821.5">2</tspan><tspan x="847">1</tspan><tspan x="871.5">3</tspan><tspan x="897.5">5</tspan><tspan x="920.5">-2</tspan><tspan x="947.5">2</tspan></text>
<text x="641" y="1367.5">4 Ghana</text><text class="e" y="1367.5"><tspan x="770.5">3</tspan><tspan x="796.5">0</tspan><tspan x="821.5">1</tspan><tspan x="847">2</tspan><tspan x="871.5">2</tspan><tspan x="897.5">5</tspan><tspan x="920.5">-3</tspan><tspan x="947.5">1</tspan></text>
</g>

<g id="group-H">
<rect class="wh" x="0" y="1462.7" width="44" height="189.6"/>
<use href="#mr" y="1461.7"/><use href="#mr" y="1485.7"/><use href="#mr" y="1509.7"/><use href="#mr2" y="1548.3"/><use href="#mr2" y="1590.3"/><use href="#mr2" y="1631.8"/>
<path class="k" d="M0 1461.7H45M0 1653.3H346M45 1461.7V1653.3M346 1461.7V1653.3M378 1461.7V1653.3M525 1461.7V1675M557 1461.7V1675M378 1461.7H557M525 1675H557"/>
<rect class="hl" x="638" y="1461.7" width="313" height="17.6"/><rect class="hl" x="638" y="1485.7" width="313" height="17.6"/>
<text class="big m" x="23" y="1576">H</text>
<text class="m" y="1475.5"><tspan x="103.75">Rusia</tspan><tspan x="220.25">Corea</tspan><tspan x="541">-</tspan></text><text class="e" y="1475.5"><tspan x="452">0</tspan><tspan x="522.5">0</tspan></text>
<text class="m" y="1499.5"><tspan x="103.75">Bélgica</tspan><tspan x="220.25">Argelia</tspan><tspan x="541">-</tspan></text><text class="e" y="1499.5"><tspan x="452">2</tspan><tspan x="522.5">1</tspan></text>
<text class="m" y="1523.5"><tspan x="103.75">Corea</tspan><tspan x="220.25">Argelia</tspan><tspan x="541">-</tspan></text><text class="e" y="1523.5"><tspan x="452">3</tspan><tspan x="522.5">0</tspan></text>
<text class="m" y="1565.5"><tspan x="103.75">Bélgica</tspan><tspan x="220.25">Rusia</tspan><tspan x="541">-</tspan></text><text class="e" y="1565.5"><tspan x="452">1</tspan><tspan x="522.5">1</tspan></text>
<text class="m" y="1607.5"><tspan x="103.75">Corea</tspan><tspan x="220.25">Bélgica</tspan><tspan x="541">-</tspan></text><text class="e" y="1607.5"><tspan x="452">0</tspan><tspan x="522.5">1</tspan></text>
<text class="m" y="1649.5"><tspan x="103.75">Argelia</tspan><tspan x="220.25">Rusia</tspan><tspan x="541">-</tspan></text><text class="e" y="1649.5"><tspan x="452">1</tspan><tspan x="522.5">2</tspan></text>
<text class="e red" x="554" y="1670">0</text>
<text y="1457.7"><tspan x="750">PJ</tspan><tspan x="776">PG</tspan><tspan x="802">PE</tspan><tspan x="827">PP</tspan><tspan x="852.5">GF</tspan><tspan x="877">GC</tspan><tspan x="902">Dif</tspan><tspan x="926">Pts</tspan><tspan x="977">Posición Real Final</tspan></text>
<text y="1475.5"><tspan x="576">1H</tspan><tspan x="641">1 Bélgica</tspan></text><text class="e" y="1475.5"><tspan x="770.5">3</tspan><tspan x="796.5">2</tspan><tspan x="821.5">1</tspan><tspan x="847">0</tspan><tspan x="871.5">4</tspan><tspan x="897.5">2</tspan><tspan x="920.5">2</tspan><tspan x="947.5">7</tspan></text>
<text y="1499.5"><tspan x="576">2H</tspan><tspan x="641">2 Rusia</tspan></text><text class="e" y="1499.5"><tspan x="770.5">3</tspan><tspan x="796.5">1</tspan><tspan x="821.5">2</tspan><tspan x="847">0</tspan><tspan x="871.5">3</tspan><tspan x="897.5">2</tspan><tspan x="920.5">1</tspan><tspan x="947.5">5</tspan></text>
<text x="641" y="1523.5">3 Corea</text><text class="e" y="1523.5"><tspan x="770.5">3</tspan><tspan x="796.5">1</tspan><tspan x="821.5">1</tspan><tspan x="847">1</tspan><tspan x="871.5">3</tspan><tspan x="897.5">1</tspan><tspan x="920.5">2</tspan><tspan x="947.5">4</tspan></text>
<text x="641" y="1565.5">4 Argelia</text><text class="e" y="1565.5"><tspan x="770.5">3</tspan><tspan x="796.5">0</tspan><tspan x="821.5">0</tspan><tspan x="847">3</tspan><tspan x="871.5">2</tspan><tspan x="897.5">7</tspan><tspan x="920.5">-5</tspan><tspan x="947.5">0</tspan></text>
</g>

<g id="clasificados-octavos">
<text class="m" x="104" y="1711.7">Clasificados a Octavos</text>
<text class="m" y="1751.7"><tspan x="103.75">PRONOSTICO</tspan><tspan x="220.25">REAL</tspan><tspan x="416.5">Exacto</tspan><tspan x="490">Clasific.</tspan><tspan x="541">Tot</tspan></text>
<text x="3" y="1771.7">1A</text><text class="m" y="1771.7"><tspan x="103.75">Brasil</tspan><tspan x="416.5">0</tspan><tspan x="490">0</tspan><tspan x="541">0</tspan></text>
<text x="3" y="1791.7">2A</text><text class="m" y="1791.7"><tspan x="103.75">Camerún</tspan><tspan x="416.5">0</tspan><tspan x="490">0</tspan><tspan x="541">0</tspan></text>
<text x="3" y="1811.7">1B</text><text class="m" y="1811.7"><tspan x="103.75">Holanda</tspan><tspan x="416.5">0</tspan><tspan x="490">0</tspan><tspan x="541">0</tspan></text>
<text x="3" y="1831.7">2B</text><text class="m" y="1831.7"><tspan x="103.75">España</tspan><tspan x="416.5">0</tspan><tspan x="490">0</tspan><tspan x="541">0</tspan></text>
<text x="3" y="1851.7">1C</text><text class="m" y="1851.7"><tspan x="103.75">Costa de Marfil</tspan><tspan x="416.5">0</tspan><tspan x="490">0</tspan><tspan x="541">0</tspan></text>
<text x="3" y="1871.7">2C</text><text class="m" y="1871.7"><tspan x="103.75">Colombia</tspan><tspan x="416.5">0</tspan><tspan x="490">0</tspan><tspan x="541">0</tspan></text>
<text x="3" y="1891.7">1D</text><text class="m" y="1891.7"><tspan x="103.75">Inglaterra</tspan><tspan x="416.5">0</tspan><tspan x="490">0</tspan><tspan x="541">0</tspan></text>
<text x="3" y="1911.7">2D</text><text class="m" y="1911.7"><tspan x="103.75">Uruguay</tspan><tspan x="416.5">0</tspan><tspan x="490">0</tspan><tspan x="541">0</tspan></text>
<text x="3" y="1931.7">1E</text><text class="m" y="1931.7"><tspan x="103.75">Francia</tspan><tspan x="416.5">0</tspan><tspan x="490">0</tspan><tspan x="541">0</tspan></text>
<text x="3" y="1951.7">2E</text><text class="m" y="1951.7"><tspan x="103.75">Ecuador</tspan><tspan x="416.5">0</tspan><tspan x="490">0</tspan><tspan x="541">0</tspan></text>
<text x="3" y="1971.7">1F</text><text class="m" y="1971.7"><tspan x="103.75">Argentina</tspan><tspan x="416.5">0</tspan><tspan x="490">0</tspan><tspan x="541">0</tspan></text>
<text x="3" y="1991.7">2F</text><text class="m" y="1991.7"><tspan x="103.75">Nigeria</tspan><tspan x="416.5">0</tspan><tspan x="490">0</tspan><tspan x="541">0</tspan></text>
<text x="3" y="2011.7">1G</text><text class="m" y="2011.7"><tspan x="103.75">Alemania</tspan><tspan x="416.5">0</tspan><tspan x="490">0</tspan><tspan x="541">0</tspan></text>
<text x="3" y="2031.7">2G</text><text class="m" y="2031.7"><tspan x="103.75">Portugal</tspan><tspan x="416.5">0</tspan><tspan x="490">0</tspan><tspan x="541">0</tspan></text>
<text x="3" y="2051.7">1H</text><text class="m" y="2051.7"><tspan x="103.75">Bélgica</tspan><tspan x="416.5">0</tspan><tspan x="490">0</tspan><tspan x="541">0</tspan></text>
<text x="3" y="2071.7">2H</text><text class="m" y="2071.7"><tspan x="103.75">Rusia</tspan><tspan x="416.5">0</tspan><tspan x="490">0</tspan><tspan x="541">0</tspan></text>
</g>

<g id="octavos">
<text class="m" x="161.5" y="2131.7">OCTAVOS DE FINAL</text>
<text class="m b" y="2171"><tspan x="161.5">PRONÓSTICOS</tspan><tspan x="410">PUNTAJE</tspan><tspan x="660.5">RESULTADO REAL</tspan></text>
<path class="k" d="M45 2175.7H278V2216.7H45ZM162.5 2175.7V2216.7M378 2175.7h77v41h-77ZM525 2175.7h32v41h-32ZM574 2175.7h64v41h-64ZM653 2175.7h94v41h-94Z"/>
<text class="m" y="2202.7"><tspan x="103.75">LOCAL</tspan><tspan x="220.25">VISITANTE</tspan><tspan x="541">Tot.</tspan><tspan x="606">LOCAL</tspan><tspan x="700">VISITANTE</tspan></text>
<text class="m" x="416.5" y="2192.7">Acierto en</text><text class="m" x="416.5" y="2212.3">Cruce</text>
<text x="281" y="2212.3">1 o 2</text>
<text class="sm" x="750" y="2213">1o2</text>
<rect class="bx" x="278" y="2236.7" width="34" height="20"/><rect class="bx" x="278" y="2296.7" width="34" height="20"/><rect class="bx" x="278" y="2356.7" width="34" height="20"/><rect class="bx" x="278" y="2416.7" width="34" height="20"/><rect class="bx" x="278" y="2476.7" width="34" height="20"/><rect class="bx" x="278" y="2536.7" width="34" height="20"/><rect class="bx" x="278" y="2596.7" width="34" height="20"/><rect class="bx" x="278" y="2656.7" width="34" height="20"/>
<text class="m" y="2234"><tspan x="103.75">1A</tspan><tspan x="220.25">2B</tspan></text>
<text x="3" y="2253.7">P49</text><text class="m" y="2253.7"><tspan x="103.75">Brasil</tspan><tspan x="220.25">España</tspan><tspan x="295">1</tspan><tspan x="541">0</tspan><tspan x="606">Brasil</tspan><tspan x="700">Holanda</tspan></text><text x="315" y="2253.7">Brasil</text><text class="e" x="452" y="2253.7">0</text>
<text class="m" y="2294"><tspan x="103.75">1C</tspan><tspan x="220.25">2D</tspan></text>
<text x="3" y="2313.7">P50</text><text class="m" y="2313.7"><tspan x="103.75">Costa de Marfil</tspan><tspan x="220.25">Uruguay</tspan><tspan x="295">2</tspan><tspan x="541">0</tspan><tspan x="606">Colombia</tspan><tspan x="700">Costa Rica</tspan></text><text x="315" y="2313.7">Uruguay</text><text class="e" x="452" y="2313.7">0</text>
<text class="m" y="2354"><tspan x="103.75">1E</tspan><tspan x="220.25">2F</tspan></text>
<text x="3" y="2373.7">P53</text><text class="m" y="2373.7"><tspan x="103.75">Francia</tspan><tspan x="220.25">Nigeria</tspan><tspan x="295">1</tspan><tspan x="541">0</tspan><tspan x="606">Suiza</tspan><tspan x="700">Bosnia</tspan></text><text x="315" y="2373.7">Francia</text><text class="e" x="452" y="2373.7">0</text>
<text class="m" y="2414"><tspan x="103.75">1G</tspan><tspan x="220.25">2H</tspan></text>
<text x="3" y="2433.7">P54</text><text class="m" y="2433.7"><tspan x="103.75">Alemania</tspan><tspan x="220.25">Rusia</tspan><tspan x="295">1</tspan><tspan x="541">0</tspan><tspan x="606">Ghana</tspan><tspan x="700">Corea</tspan></text><text x="315" y="2433.7">Alemania</text><text class="e" x="452" y="2433.7">0</text>
<text class="m" y="2474"><tspan x="103.75">1B</tspan><tspan x="220.25">2A</tspan></text>
<text x="3" y="2493.7">P51</text><text class="m" y="2493.7"><tspan x="103.75">Holanda</tspan><tspan x="220.25">Camerún</tspan><tspan x="295">1</tspan><tspan x="541">0</tspan><tspan x="606">España</tspan><tspan x="700">Croacia</tspan></text><text x="315" y="2493.7">Holanda</text><text class="e" x="452" y="2493.7">0</text>
<text class="m" y="2534"><tspan x="103.75">1D</tspan><tspan x="220.25">2C</tspan></text>
<text x="3" y="2553.7">P52</text><text class="m" y="2553.7"><tspan x="103.75">Inglaterra</tspan><tspan x="220.25">Colombia</tspan><tspan x="295">1</tspan><tspan x="541">0</tspan><tspan x="606">Uruguay</tspan><tspan x="700">Grecia</tspan></text><text x="315" y="2553.7">Inglaterra</text><text class="e" x="452" y="2553.7">0</text>
<text class="m" y="2594"><tspan x="103.75">1F</tspan><tspan x="220.25">2E</tspan></text>
<text x="3" y="2613.7">P55</text><text class="m" y="2613.7"><tspan x="103.75">Argentina</tspan><tspan x="220.25">Ecuador</tspan><tspan x="295">1</tspan><tspan x="541">3</tspan><tspan x="606">Argentina</tspan><tspan x="700">Ecuador</tspan></text><text x="315" y="2613.7">Argentina</text><text class="e" x="452" y="2613.7">3</text>
<text class="m" y="2654"><tspan x="103.75">1H</tspan><tspan x="220.25">2G</tspan></text>
<text x="3" y="2673.7">P56</text><text class="m" y="2673.7"><tspan x="103.75">Bélgica</tspan><tspan x="220.25">Portugal</tspan><tspan x="295">1</tspan><tspan x="541">0</tspan><tspan x="606">Rusia</tspan><tspan x="700">USA</tspan></text><text x="315" y="2673.7">Bélgica</text><text class="e" x="452" y="2673.7">0</text>
</g>

<g id="clasificados-cuartos">
<text class="m" x="104" y="2713.5">Clasificados a Cuartos</text>
<text class="m" y="2753.5"><tspan x="103.75">PRONOSTICO</tspan><tspan x="220.25">REAL</tspan><tspan x="416.5">Exacto</tspan><tspan x="490">Clasific.</tspan><tspan x="541">Tot</tspan></text>
<text x="3" y="2773.5">P49</text><text class="m" y="2773.5"><tspan x="103.75">Brasil</tspan><tspan x="490.5">0</tspan></text><text class="e" y="2773.5"><tspan x="452">0</tspan><tspan x="554.5">0</tspan></text>
<text x="3" y="2793.5">P50</text><text class="m" y="2793.5"><tspan x="103.75">Uruguay</tspan><tspan x="490.5">0</tspan></text><text class="e" y="2793.5"><tspan x="452">0</tspan><tspan x="554.5">0</tspan></text>
<text x="3" y="2813.5">P51</text><text class="m" y="2813.5"><tspan x="103.75">Holanda</tspan><tspan x="490.5">0</tspan></text><text class="e" y="2813.5"><tspan x="452">0</tspan><tspan x="554.5">0</tspan></text>
<text x="3" y="2833.5">P52</text><text class="m" y="2833.5"><tspan x="103.75">Inglaterra</tspan><tspan x="490.5">0</tspan></text><text class="e" y="2833.5"><tspan x="452">0</tspan><tspan x="554.5">0</tspan></text>
<text x="3" y="2853.5">P53</text><text class="m" y="2853.5"><tspan x="103.75">Francia</tspan><tspan x="490.5">0</tspan></text><text class="e" y="2853.5"><tspan x="452">0</tspan><tspan x="554.5">0</tspan></text>
<text x="3" y="2873.5">P54</text><text class="m" y="2873.5"><tspan x="103.75">Alemania</tspan><tspan x="490.5">0</tspan></text><text class="e" y="2873.5"><tspan x="452">0</tspan><tspan x="554.5">0</tspan></text>
<text x="3" y="2893.5">P55</text><text class="m" y="2893.5"><tspan x="103.75">Argentina</tspan><tspan x="490.5">0</tspan></text><text class="e" y="2893.5"><tspan x="452">0</tspan><tspan x="554.5">0</tspan></text>
<text x="3" y="2913.5">P56</text><text class="m" y="2913.5"><tspan x="103.75">Bélgica</tspan><tspan x="490.5">0</tspan></text><text class="e" y="2913.5"><tspan x="452">0</tspan><tspan x="554.5">0</tspan></text>
</g>

<g id="cuartos">
<text class="m" x="162" y="2973.3">CUARTOS DE FINAL</text>
<text class="m b" y="2973.3"><tspan x="416">PUNTAJE</tspan><tspan x="660.5">RESULTADO REAL</tspan></text>
<path class="k" d="M378 2976.7h77v42.5h-77ZM525 2976.7h32v42.5h-32ZM574 2976.7h64v42.5h-64ZM653 2976.7h94v42.5h-94Z"/>
<text class="m" x="416.5" y="2994.6">Acierto en</text><text class="m" x="416.5" y="3014.6">Cruce</text>
<text class="m" y="3004.6"><tspan x="541">Tot.</tspan><tspan x="606">LOCAL</tspan><tspan x="700">VISITANTE</tspan></text>
<text class="sm" x="750" y="3013.5">1o2</text>
<rect class="bx" x="278" y="3039.2" width="34" height="20"/><rect class="bx" x="278" y="3099.2" width="34" height="20"/><rect class="bx" x="278" y="3159.2" width="34" height="20"/><rect class="bx" x="278" y="3219.2" width="34" height="20"/>
<text class="m" y="3035.5"><tspan x="103.75">P49</tspan><tspan x="220.25">P50</tspan></text>
<text x="3" y="3055.7">P57</text><text class="m" y="3055.7"><tspan x="103.75">Brasil</tspan><tspan x="220.25">Uruguay</tspan><tspan x="295">1</tspan><tspan x="541">0</tspan></text><text x="315" y="3055.7">Brasil</text><text class="e" x="452" y="3055.7">0</text>
<text class="m" y="3095.5"><tspan x="103.75">P53</tspan><tspan x="220.25">P54</tspan></text>
<text x="3" y="3115.7">P58</text><text class="m" y="3115.7"><tspan x="103.75">Francia</tspan><tspan x="220.25">Alemania</tspan><tspan x="295">2</tspan><tspan x="541">0</tspan></text><text x="315" y="3115.7">Alemania</text><text class="e" x="452" y="3115.7">0</text>
<text class="m" y="3155.5"><tspan x="103.75">P51</tspan><tspan x="220.25">P52</tspan></text>
<text x="3" y="3175.7">P59</text><text class="m" y="3175.7"><tspan x="103.75">Holanda</tspan><tspan x="220.25">Inglaterra</tspan><tspan x="295">1</tspan><tspan x="541">0</tspan></text><text x="315" y="3175.7">Holanda</text><text class="e" x="452" y="3175.7">0</text>
<text class="m" y="3215.5"><tspan x="103.75">P55</tspan><tspan x="220.25">P56</tspan></text>
<text x="3" y="3235.7">P60</text><text class="m" y="3235.7"><tspan x="103.75">Argentina</tspan><tspan x="220.25">Bélgica</tspan><tspan x="295">1</tspan><tspan x="541">0</tspan></text><text x="315" y="3235.7">Argentina</text><text class="e" x="452" y="3235.7">0</text>
</g>

<g id="clasificados-semis">
<text class="m" x="104" y="3295.7">Clasificados a Semis</text>
<text class="m" y="3335.7"><tspan x="103.75">PRONOSTICO</tspan><tspan x="220.25">REAL</tspan><tspan x="416.5">Exacto</tspan><tspan x="490">Clasific.</tspan><tspan x="541">Tot</tspan></text>
<text x="3" y="3355.7">P57</text><text class="m" y="3355.7"><tspan x="103.75">Brasil</tspan><tspan x="490.5">0</tspan></text><text class="e" y="3355.7"><tspan x="452">0</tspan><tspan x="554.5">0</tspan></text>
<text x="3" y="3375.7">P58</text><text class="m" y="3375.7"><tspan x="103.75">Alemania</tspan><tspan x="490.5">0</tspan></text><text class="e" y="3375.7"><tspan x="452">0</tspan><tspan x="554.5">0</tspan></text>
<text x="3" y="3395.7">P59</text><text class="m" y="3395.7"><tspan x="103.75">Holanda</tspan><tspan x="490.5">0</tspan></text><text class="e" y="3395.7"><tspan x="452">0</tspan><tspan x="554.5">0</tspan></text>
<text x="3" y="3415.7">P60</text><text class="m" y="3415.7"><tspan x="103.75">Argentina</tspan><tspan x="490.5">0</tspan></text><text class="e" y="3415.7"><tspan x="452">0</tspan><tspan x="554.5">0</tspan></text>
</g>

<g id="semifinales">
<text class="m" x="162" y="3475.7">SEMI FINALES</text>
<text class="m b" y="3475.7"><tspan x="416">PUNTAJE</tspan><tspan x="660.5">RESULTADO REAL</tspan></text>
<path class="k" d="M378 3479.2h77v42.5h-77ZM525 3479.2h32v42.5h-32ZM574 3479.2h64v42.5h-64ZM653 3479.2h94v42.5h-94Z"/>
<text class="m" x="416.5" y="3496.7">Acierto en</text><text class="m" x="416.5" y="3516.7">Cruce</text>
<text class="m" y="3506.7"><tspan x="541">Tot.</tspan><tspan x="606">LOCAL</tspan><tspan x="700">VISITANTE</tspan></text>
<text class="sm" x="750" y="3516">1o2</text>
<rect class="bx" x="278" y="3541.7" width="34" height="20"/><rect class="bx" x="278" y="3601.7" width="34" height="20"/>
<text class="m" y="3537.7"><tspan x="103.75">P57</tspan><tspan x="220.25">P58</tspan></text>
<text x="3" y="3557.7">P61</text><text class="m" y="3557.7"><tspan x="103.75">Brasil</tspan><tspan x="220.25">Alemania</tspan><tspan x="295">2</tspan><tspan x="541">0</tspan></text><text x="315" y="3557.7">Alemania</text><text class="e" x="452" y="3557.7">0</text>
<text class="m" y="3597.7"><tspan x="103.75">P59</tspan><tspan x="220.25">P60</tspan></text>
<text x="3" y="3617.7">P62</text><text class="m" y="3617.7"><tspan x="103.75">Holanda</tspan><tspan x="220.25">Argentina</tspan><tspan x="295">2</tspan><tspan x="541">0</tspan></text><text x="315" y="3617.7">Argentina</text><text class="e" x="452" y="3617.7">0</text>
</g>

<g id="clasificados-final">
<text class="m" x="104" y="3657.7">Clasificados a la Final</text>
<text class="m" y="3697.7"><tspan x="103.75">PRONOSTICO</tspan><tspan x="220.25">REAL</tspan><tspan x="416.5">Exacto</tspan><tspan x="490">Clasific.</tspan><tspan x="541">Tot</tspan></text>
<text x="3" y="3717.7">P61</text><text class="m" y="3717.7"><tspan x="103.75">Alemania</tspan><tspan x="490.5">0</tspan></text><text class="e" y="3717.7"><tspan x="452">0</tspan><tspan x="554.5">0</tspan></text>
<text x="3" y="3737.7">P62</text><text class="m" y="3737.7"><tspan x="103.75">Argentina</tspan><tspan x="490.5">0</tspan></text><text class="e" y="3737.7"><tspan x="452">0</tspan><tspan x="554.5">0</tspan></text>
</g>

<g id="tercer-puesto">
<text class="m" x="162" y="3797.7">TERCER Y CUARTO PUESTO</text>
<text class="m b" y="3817"><tspan x="416">PUNTAJE</tspan><tspan x="660.5">RESULTADO REAL</tspan></text>
<path class="k" d="M378 3821.7h77v41.6h-77ZM525 3821.7h32v41.6h-32ZM574 3821.7h64v41.6h-64ZM653 3821.7h94v41.6h-94Z"/>
<text class="m" x="416.5" y="3838.7">Acierto en</text><text class="m" x="416.5" y="3858.7">Cruce</text>
<text class="m" y="3848.7"><tspan x="541">Tot.</tspan><tspan x="606">LOCAL</tspan><tspan x="700">VISITANTE</tspan></text>
<text class="sm" x="750" y="3858">1o2</text>
<rect class="bx" x="278" y="3883.3" width="34" height="20"/>
<text x="3" y="3899.3">P63</text><text class="m" y="3899.3"><tspan x="103.75">Brasil</tspan><tspan x="220.25">Holanda</tspan><tspan x="295">2</tspan><tspan x="541">0</tspan></text><text x="315" y="3899.3">Holanda</text><text class="e" x="452" y="3899.3">0</text>
</g>

<g id="final">
<text class="m" x="162" y="3939.3">FINAL</text>
<rect class="bx" x="278" y="3983.3" width="34" height="20"/>
<text class="m" y="3979.3"><tspan x="103.75">P61</tspan><tspan x="220.25">P62</tspan></text>
<text x="3" y="3999.3">P64</text><text class="m" y="3999.3"><tspan x="103.75">Alemania</tspan><tspan x="220.25">Argentina</tspan><tspan x="295">1</tspan><tspan x="541">0</tspan></text><text x="315" y="3999.3">Alemania</text><text class="e" x="452" y="3999.3">0</text>
</g>

<g id="podio">
<path class="k" d="M45 4044h117.5v21h-117.5ZM378 4044h77v21h-77ZM525 4044h32v21h-32ZM574 4044h64v21h-64Z"/>
<text class="m" y="4060"><tspan x="103.75">Podio</tspan><tspan x="416.5">Puntaje</tspan><tspan x="541">Tot.</tspan><tspan x="606">REAL</tspan></text>
<text class="m" y="4081.7"><tspan x="103.75">Campeón</tspan><tspan x="220.25">Alemania</tspan><tspan x="541">0</tspan></text><text class="e" x="452" y="4081.7">0</text>
<text class="m" y="4101.7"><tspan x="103.75">Vice - Campeón</tspan><tspan x="220.25">Argentina</tspan><tspan x="541">0</tspan></text><text class="e" x="452" y="4101.7">0</text>
<text class="m" y="4121.7"><tspan x="103.75">Tercer Puesto</tspan><tspan x="220.25">Holanda</tspan><tspan x="541">0</tspan></text><text class="e" x="452" y="4121.7">0</text>
</g>

<g id="premios">
<path class="k" d="M378 4146h77v21.3h-77ZM525 4146h32v21.3h-32ZM574 4146h64v21.3h-64Z"/>
<text class="m" y="4162.7"><tspan x="416.5">Puntaje</tspan><tspan x="541">Tot.</tspan><tspan x="606">REAL</tspan></text>
<rect class="bx" x="162.5" y="4167.3" width="115.5" height="20.4"/><rect class="bx" x="162.5" y="4187.7" width="115.5" height="20.3"/>
<text class="m" y="4183.3"><tspan x="103.75">Goleador</tspan><tspan x="541">0</tspan></text><text class="m" x="220.25" y="4183.3" style="font-size:12.2px">THOMAS MULLER</text><text class="e" y="4183.3"><tspan x="452">0</tspan><tspan x="636">0</tspan></text>
<text class="m" y="4203.3"><tspan x="103.75">Mejor Jugador</tspan><tspan x="220.25">NEYMAR</tspan><tspan x="541">0</tspan></text><text class="e" y="4203.3"><tspan x="452">0</tspan><tspan x="636">0</tspan></text>
</g>
<g id="connectors"/>
</svg>
